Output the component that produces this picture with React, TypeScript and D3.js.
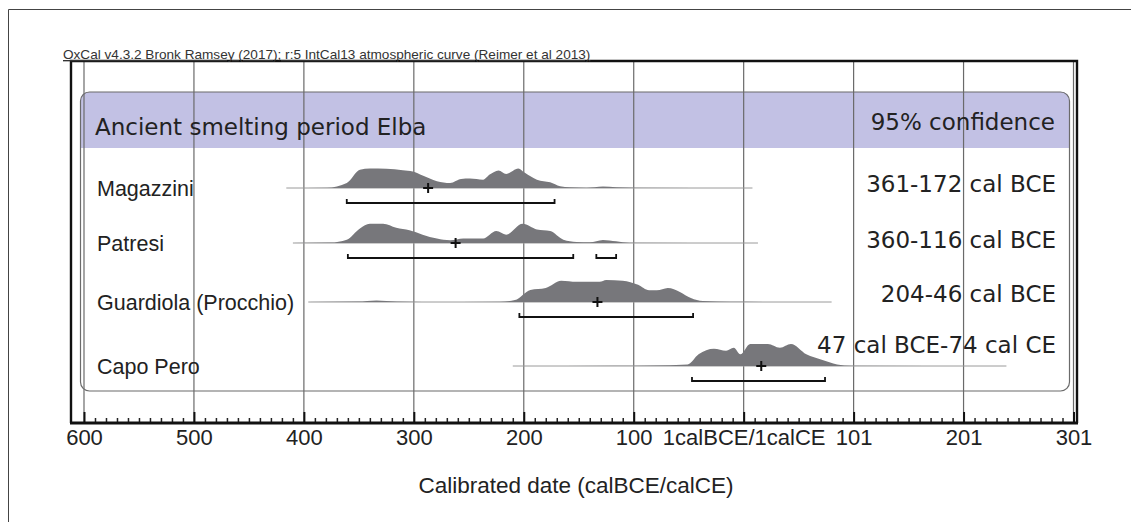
import React, { useEffect, useRef } from "react";
import * as d3 from "d3";

// header + axis
const oxcalNote = "OxCal v4.3.2 Bronk Ramsey (2017); r:5 IntCal13 atmospheric curve (Reimer et al 2013)";
const headerLeft = "Ancient smelting period Elba";
const headerRight = "95% confidence";
const axisTitle = "Calibrated date (calBCE/calCE)";
const tickValues = [-600, -500, -400, -300, -200, -100, 0, 100, 200, 300];
const tickLabels = ["600", "500", "400", "300", "200", "100", "1calBCE/1calCE", "101", "201", "301"];

// samples (years: negative = cal BCE)
const sampleNames = ["Magazzini", "Patresi", "Guardiola (Procchio)", "Capo Pero"];
const rangeLabels = ["361-172 cal BCE", "360-116 cal BCE", "204-46 cal BCE", "47 cal BCE-74 cal CE"];

const magazziniYears = [-416, -379, -361, -349, -340, -325, -310, -301, -292, -279, -267, -257, -249, -237, -231, -223, -216, -205, -199, -188, -176, -167, -158, -143, -128, -116, -98, 8];
const magazziniProb = [0, 1, 23, 83, 89, 87, 81, 75, 57, 31, 23, 41, 43, 38, 61, 80, 64, 89, 69, 38, 26, 8, 3, 1, 7, 3, 1, 0];

const patresiYears = [-410, -376, -361, -349, -340, -328, -316, -304, -292, -279, -267, -255, -237, -225, -216, -201, -188, -176, -164, -152, -140, -128, -116, -104, 13];
const patresiProb = [0, 2, 15, 66, 87, 87, 69, 58, 38, 20, 12, 20, 20, 54, 38, 87, 61, 54, 15, 5, 3, 14, 8, 1, 0];

const guardiolaYears = [-396, -351, -334, -316, -292, -222, -208, -194, -180, -166, -152, -131, -125, -110, -96, -86, -79, -69, -58, -48, -37, -12, 80];
const guardiolaProb = [0, 2, 7, 2, 0, 1, 9, 55, 64, 97, 92, 92, 100, 97, 78, 53, 53, 64, 46, 18, 4, 1, 0];

const capoPeroYears = [-210, -117, -83, -51, -41, -27, -16, -9, -3, 6, 22, 33, 43, 57, 71, 85, 98, 239];
const capoPeroProb = [0, 1, 2, 7, 53, 78, 69, 83, 53, 100, 100, 83, 100, 53, 28, 7, 1, 0];

const magazziniRanges = [[-361, -172]];
const patresiRanges = [[-360, -155], [-134, -116]];
const guardiolaRanges = [[-204, -46]];
const capoPeroRanges = [[-47, 74]];

const sampleMeans = [-287, -262, -133, 16];

const App = () => {
    const svgRef = useRef(null);

    useEffect(() => {
        const width = 1131;
        const height = 522;
        const plot = { left: 71, right: 1077, top: 61, bottom: 423 };
        const rowBase = [188, 243, 302, 366];
        const rangeTextY = [184, 240, 294, 345];

        const series = [
            { years: magazziniYears, prob: magazziniProb, ranges: magazziniRanges },
            { years: patresiYears, prob: patresiProb, ranges: patresiRanges },
            { years: guardiolaYears, prob: guardiolaProb, ranges: guardiolaRanges },
            { years: capoPeroYears, prob: capoPeroProb, ranges: capoPeroRanges },
        ];

        const svg = d3.select(svgRef.current)
            .attr("width", width)
            .attr("height", height)
            .style("background", "#fff");

        svg.selectAll("*").remove();

        const x = d3.scaleLinear().domain([-600, 300]).range([84, 1073.5]);
        const h = d3.scaleLinear().domain([0, 100]).range([0, 22]);

        // page frame
        svg.append("path")
            .attr("d", `M8.5,${height} V9.5 H${width}`)
            .attr("fill", "none")
            .attr("stroke", "#444")
            .attr("stroke-width", 1);

        // header band + inner rounded box
        const bx = 80.5, bw = 989, by = 92, bh = 299, r = 9;
        svg.append("path")
            .attr("d", `M${bx},148 V${by + r} Q${bx},${by} ${bx + r},${by} H${bx + bw - r} Q${bx + bw},${by} ${bx + bw},${by + r} V148 Z`)
            .attr("fill", "#c2c1e4");

        // gridlines
        svg.append("g")
            .selectAll("line")
            .data(tickValues)
            .join("line")
            .attr("x1", d => x(d))
            .attr("x2", d => x(d))
            .attr("y1", plot.top)
            .attr("y2", plot.bottom)
            .attr("stroke", "#6a6a6a")
            .attr("stroke-width", 1.2);

        svg.append("rect")
            .attr("x", bx)
            .attr("y", by)
            .attr("width", bw)
            .attr("height", bh)
            .attr("rx", r)
            .attr("fill", "none")
            .attr("stroke", "#6b6b6b")
            .attr("stroke-width", 1.2);

        svg.append("text")
            .attr("x", 95)
            .attr("y", 135)
            .attr("font-family", "DejaVu Sans")
            .attr("font-size", 23)
            .attr("fill", "#222")
            .text(headerLeft);

        svg.append("text")
            .attr("x", 1055)
            .attr("y", 130)
            .attr("text-anchor", "end")
            .attr("font-family", "DejaVu Sans")
            .attr("font-size", 23)
            .attr("fill", "#222")
            .text(headerRight);

        // distributions
        const area = d3.area()
            .x(d => x(d[0]))
            .y0(0)
            .y1(d => -h(d[1]))
            .curve(d3.curveMonotoneX);

        series.forEach((s, i) => {
            const g = svg.append("g").attr("transform", `translate(0,${rowBase[i]})`);
            const pts = s.years.map((yr, j) => [yr, s.prob[j]]);

            g.append("line")
                .attr("x1", x(d3.min(s.years)))
                .attr("x2", x(d3.max(s.years)))
                .attr("stroke", "#9a9a9a")
                .attr("stroke-width", 1);

            g.append("path")
                .datum(pts)
                .attr("d", area)
                .attr("fill", "#77777b");

            g.selectAll(".range")
                .data(s.ranges)
                .join("path")
                .attr("d", d => `M${x(d[0])},11 V15 H${x(d[1])} V11`)
                .attr("fill", "none")
                .attr("stroke", "#111")
                .attr("stroke-width", 1.8);

            const mx = x(sampleMeans[i]);
            g.append("path")
                .attr("d", `M${mx - 5},0 H${mx + 5} M${mx},-5 V5`)
                .attr("stroke", "#111")
                .attr("stroke-width", 2);

            svg.append("text")
                .attr("x", 97)
                .attr("y", rowBase[i])
                .attr("dy", "0.36em")
                .attr("font-family", "Liberation Sans, Arial")
                .attr("font-size", 21.5)
                .attr("fill", "#222")
                .text(sampleNames[i]);

            svg.append("text")
                .attr("x", 1056)
                .attr("y", rangeTextY[i])
                .attr("dy", "0.36em")
                .attr("text-anchor", "end")
                .attr("font-family", "DejaVu Sans")
                .attr("font-size", 23)
                .attr("fill", "#222")
                .text(rangeLabels[i]);
        });

        // plot frame
        svg.append("path")
            .attr("d", `M${plot.left},${plot.bottom} V${plot.top} H${plot.right} V${plot.bottom}`)
            .attr("fill", "none")
            .attr("stroke", "#111")
            .attr("stroke-width", 2.4);

        svg.append("text")
            .attr("x", 63)
            .attr("y", plot.top - 2)
            .attr("font-family", "Liberation Sans, Arial")
            .attr("font-size", 13.6)
            .attr("fill", "#333")
            .attr("text-decoration", "underline")
            .text(oxcalNote);

        // axis
        const minorTicks = d3.range(-600, 301, 10).filter(v => !tickValues.includes(v));
        const minor = svg.append("g")
            .attr("transform", `translate(0,${plot.bottom})`)
            .call(d3.axisBottom(x).tickValues(minorTicks).tickSize(-5).tickFormat(() => ""));
        minor.select(".domain").remove();
        minor.selectAll("line").attr("stroke", "#222").attr("stroke-width", 1.5);

        const major = svg.append("g")
            .attr("transform", `translate(0,${plot.bottom})`)
            .call(d3.axisBottom(x)
                .tickValues(tickValues)
                .tickSize(-11)
                .tickPadding(6)
                .tickFormat((d, i) => tickLabels[i]));
        major.select(".domain").remove();
        major.selectAll("line").attr("stroke", "#111").attr("stroke-width", 2);
        major.selectAll("text")
            .attr("font-family", "Liberation Sans, Arial")
            .attr("font-size", 22)
            .attr("fill", "#222");

        svg.append("line")
            .attr("x1", plot.left - 1)
            .attr("x2", plot.right + 1)
            .attr("y1", plot.bottom)
            .attr("y2", plot.bottom)
            .attr("stroke", "#111")
            .attr("stroke-width", 3);

        svg.append("text")
            .attr("x", 576)
            .attr("y", 493)
            .attr("text-anchor", "middle")
            .attr("font-family", "Liberation Sans, Arial")
            .attr("font-size", 22.5)
            .attr("fill", "#222")
            .text(axisTitle);
    }, []);

    return (
        <svg ref={svgRef} style={{ position: "absolute", left: 0, top: 0 }}></svg>
    );
};

export default App;
